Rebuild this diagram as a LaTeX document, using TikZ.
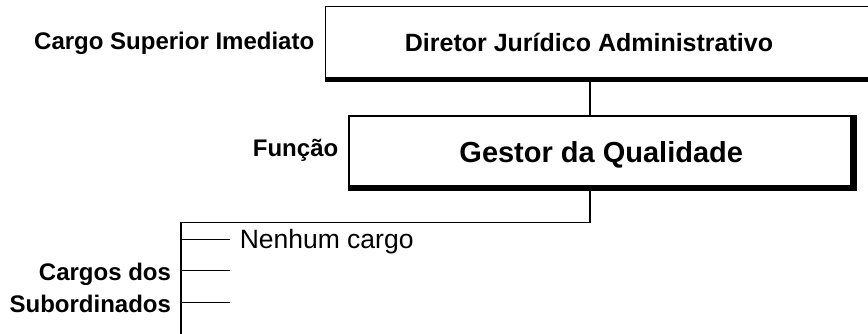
\documentclass[tikz,border=0pt]{standalone}
\usepackage{fontspec}
\setmainfont{Liberation Sans}
\begin{document}
\begin{tikzpicture}[x=1pt, y=-1pt, line width=1.5pt,
    every node/.style={inner sep=0pt},
    cargo/.style={draw, line width=1.5pt, text depth=0pt},
    rotulo/.style={anchor=base east, align=right, font=\bfseries\fontsize{24}{31.3}\selectfont}]
  \useasboundingbox (0,0) rectangle (868,334);
  \clip (0,0) rectangle (868,334);

  \node[cargo, minimum width=553pt, minimum height=73pt] (superior) at (602,43) {};
  \node[text height=18pt, text depth=0pt, font=\bfseries\fontsize{25}{30}\selectfont]
    (diretor) at (589,43) {Diretor Jurídico Administrativo};
  \node[cargo, minimum width=504.5pt, minimum height=72.25pt, text height=20.5pt,
    font=\bfseries\fontsize{29}{34}\selectfont] (gestor) at (601.25,151.9) {Gestor da Qualidade};
  \fill (325,77) rectangle (868,82);
  \fill (850,115) rectangle (857.3,190.7);
  \fill (348.3,185) rectangle (857.3,190.7);

  \node[rotulo] (cargosup) at (315,49.3) {Cargo Superior Imediato};
  \node[rotulo] (funcao) at (339,156.7) {Função};
  \node[rotulo, anchor=south east] (subord) at (171.7,313) {Cargos dos\\Subordinados};

  \coordinate (juncao) at (590,222.7);
  \coordinate (topo) at (181,222.7);
  \coordinate (base) at (181,340);
  \draw (juncao |- superior.south) -- (juncao |- gestor.north);
  \draw (juncao |- gestor.south) -- (juncao) -- (topo) -- (base);

  \node[anchor=west, text height=19pt, text depth=0pt, font=\fontsize{26.5}{31}\selectfont] (nenhum) at (239,239.3) {Nenhum cargo};
  \draw (topo |- nenhum) -- (230,239.3);
  \foreach \y in {270.7,302.7}
    \draw (181,\y) -- (230,\y);
\end{tikzpicture}
\end{document}
